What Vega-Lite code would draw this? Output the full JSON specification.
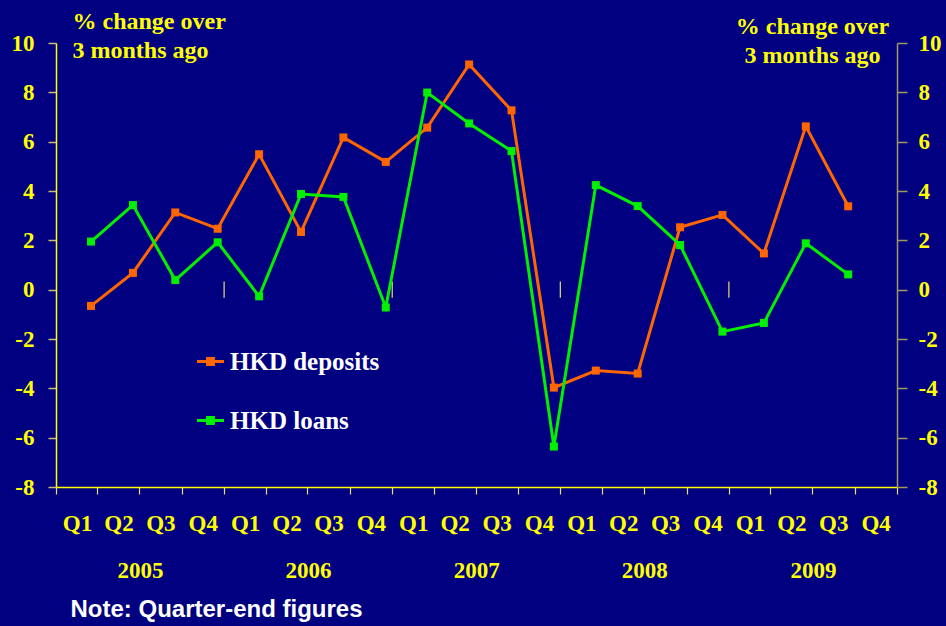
{
  "$schema": "https://vega.github.io/schema/vega-lite/v6.json",
  "width": 841,
  "height": 444,
  "autosize": "none",
  "padding": {"left": 56, "top": 43, "right": 49, "bottom": 139},
  "background": "#000080",
  "config": {
    "view": {"stroke": null},
    "axis": {"grid": false, "labelColor": "#FFFF00", "labelFont": "Liberation Serif", "labelFontWeight": "bold", "labelFontSize": 23, "titleColor": "#FFFF00", "titleFont": "Liberation Serif", "titleFontWeight": "bold", "titleFontSize": 24},
    "legend": {
      "orient": "none", "legendX": 141, "legendY": 305, "title": null, "padding": 0,
      "symbolType": "M-1,-0.11H1V0.11H-1Z M-0.33,-0.33H0.33V0.33H-0.33Z",
      "symbolSize": 729, "symbolStrokeWidth": 0, "symbolOpacity": 1,
      "labelColor": "#FFFFFF", "labelFont": "Liberation Serif", "labelFontWeight": "bold", "labelFontSize": 25,
      "rowPadding": 32, "labelOffset": 6
    }
  },
  "datasets": {
    "hk": [
      {"date": "2005-03-18", "series": "HKD deposits", "value": -0.66},
      {"date": "2005-06-17", "series": "HKD deposits", "value": 0.68},
      {"date": "2005-09-17", "series": "HKD deposits", "value": 3.13},
      {"date": "2005-12-18", "series": "HKD deposits", "value": 2.47},
      {"date": "2006-03-18", "series": "HKD deposits", "value": 5.49},
      {"date": "2006-06-17", "series": "HKD deposits", "value": 2.34},
      {"date": "2006-09-17", "series": "HKD deposits", "value": 6.17},
      {"date": "2006-12-18", "series": "HKD deposits", "value": 5.18},
      {"date": "2007-03-18", "series": "HKD deposits", "value": 6.57},
      {"date": "2007-06-17", "series": "HKD deposits", "value": 9.13},
      {"date": "2007-09-17", "series": "HKD deposits", "value": 7.27},
      {"date": "2007-12-18", "series": "HKD deposits", "value": -3.97},
      {"date": "2008-03-18", "series": "HKD deposits", "value": -3.28},
      {"date": "2008-06-17", "series": "HKD deposits", "value": -3.40},
      {"date": "2008-09-17", "series": "HKD deposits", "value": 2.53},
      {"date": "2008-12-18", "series": "HKD deposits", "value": 3.03},
      {"date": "2009-03-18", "series": "HKD deposits", "value": 1.47},
      {"date": "2009-06-17", "series": "HKD deposits", "value": 6.62},
      {"date": "2009-09-17", "series": "HKD deposits", "value": 3.38},
      {"date": "2005-03-18", "series": "HKD loans", "value": 1.95},
      {"date": "2005-06-17", "series": "HKD loans", "value": 3.43},
      {"date": "2005-09-17", "series": "HKD loans", "value": 0.39},
      {"date": "2005-12-18", "series": "HKD loans", "value": 1.92},
      {"date": "2006-03-18", "series": "HKD loans", "value": -0.27},
      {"date": "2006-06-17", "series": "HKD loans", "value": 3.88},
      {"date": "2006-09-17", "series": "HKD loans", "value": 3.76},
      {"date": "2006-12-18", "series": "HKD loans", "value": -0.72},
      {"date": "2007-03-18", "series": "HKD loans", "value": 7.99},
      {"date": "2007-06-17", "series": "HKD loans", "value": 6.74},
      {"date": "2007-09-17", "series": "HKD loans", "value": 5.62},
      {"date": "2007-12-18", "series": "HKD loans", "value": -6.36},
      {"date": "2008-03-18", "series": "HKD loans", "value": 4.24},
      {"date": "2008-06-17", "series": "HKD loans", "value": 3.39},
      {"date": "2008-09-17", "series": "HKD loans", "value": 1.81},
      {"date": "2008-12-18", "series": "HKD loans", "value": -1.70},
      {"date": "2009-03-18", "series": "HKD loans", "value": -1.35},
      {"date": "2009-06-17", "series": "HKD loans", "value": 1.88},
      {"date": "2009-09-17", "series": "HKD loans", "value": 0.62}
    ],
    "yearmarks": [
      {"d": "2006-01-01"},
      {"d": "2007-01-01"},
      {"d": "2008-01-01"},
      {"d": "2009-01-01"}
    ]
  },
  "layer": [
    {
      "mark": {"type": "rule", "color": "#FFFF99", "strokeWidth": 1.5},
      "encoding": {"y": {"datum": 0, "type": "quantitative", "scale": {"domain": [-8, 10]}, "axis": null}}
    },
    {
      "data": {"name": "yearmarks"},
      "mark": {"type": "rule", "color": "#E6E070", "strokeWidth": 1.2},
      "encoding": {
        "x": {
          "field": "d", "type": "temporal",
          "scale": {"domain": [{"year": 2005, "month": 1, "date": 1}, {"year": 2010, "month": 1, "date": 1}]},
          "axis": {
            "orient": "bottom", "tickCount": {"interval": "year", "step": 1}, "ticks": false, "domain": false,
            "labelExpr": "year(datum.value) >= 2010 ? '' : timeFormat(datum.value, '%Y')",
            "labelOffset": 84, "labelPadding": 72, "labelOverlap": false, "labelFlush": false, "labelBound": false,
            "title": "Note: Quarter-end figures", "titleX": 14, "titleY": 129, "titleAlign": "left", "titleAnchor": null,
            "titleBaseline": "alphabetic", "titleColor": "#FFFFFF", "titleFont": "Liberation Sans", "titleFontSize": 24, "titleFontWeight": "bold"
          }
        },
        "y": {"datum": -0.33, "type": "quantitative", "axis": null},
        "y2": {"datum": 0.33}
      }
    },
    {
      "data": {"name": "hk"},
      "mark": {"type": "line", "strokeWidth": 3},
      "encoding": {
        "x": {
          "field": "date", "type": "temporal",
          "axis": {
            "orient": "bottom", "tickCount": {"interval": "month", "step": 3}, "labels": false,
            "tickSize": 7, "tickColor": "#E6E070", "tickWidth": 1.2, "domainColor": "#FFFF00", "domainWidth": 1.5, "title": null
          }
        },
        "y": {
          "field": "value", "type": "quantitative",
          "axis": {
            "orient": "left", "values": [-8, -6, -4, -2, 0, 2, 4, 6, 8, 10], "tickSize": 8, "labelPadding": 14,
            "labelExpr": "datum.value < 0 ? '-' + abs(datum.value) : '' + datum.value",
            "tickColor": "#C8C070", "tickWidth": 1.5, "domainColor": "#FFFF00", "domainWidth": 1.5,
            "title": ["% change over", "3 months ago"], "titleAngle": 0, "titleX": 16, "titleY": -15,
            "titleAlign": "left", "titleBaseline": "alphabetic", "titleLineHeight": 29
          }
        },
        "color": {
          "field": "series", "type": "nominal",
          "scale": {"domain": ["HKD deposits", "HKD loans"], "range": ["#FF6600", "#00F000"]}
        }
      }
    },
    {
      "data": {"name": "hk"},
      "mark": {"type": "point", "shape": "square", "filled": true, "size": 64, "opacity": 1},
      "encoding": {
        "x": {
          "field": "date", "type": "temporal",
          "axis": {
            "orient": "bottom", "tickCount": {"interval": "month", "step": 3}, "ticks": false, "domain": false,
            "labelExpr": "year(datum.value) >= 2010 ? '' : 'Q' + (floor(month(datum.value) / 3) + 1)",
            "labelOffset": 21, "labelPadding": 25, "labelOverlap": false, "labelFlush": false, "labelBound": false, "title": null
          }
        },
        "y": {
          "field": "value", "type": "quantitative",
          "axis": {
            "orient": "right", "values": [-8, -6, -4, -2, 0, 2, 4, 6, 8, 10], "tickSize": 10, "labelPadding": 11,
            "labelExpr": "datum.value < 0 ? '-' + abs(datum.value) : '' + datum.value",
            "tickColor": "#A09A60", "tickWidth": 1.5, "domainColor": "#A09A60", "domainWidth": 1.5,
            "title": ["% change over", "3 months ago"], "titleAngle": 0, "titleX": -85, "titleY": -10,
            "titleAlign": "center", "titleBaseline": "alphabetic", "titleLineHeight": 29
          }
        },
        "color": {"field": "series", "type": "nominal"}
      }
    }
  ],
  "resolve": {"axis": {"x": "independent", "y": "independent"}}
}
